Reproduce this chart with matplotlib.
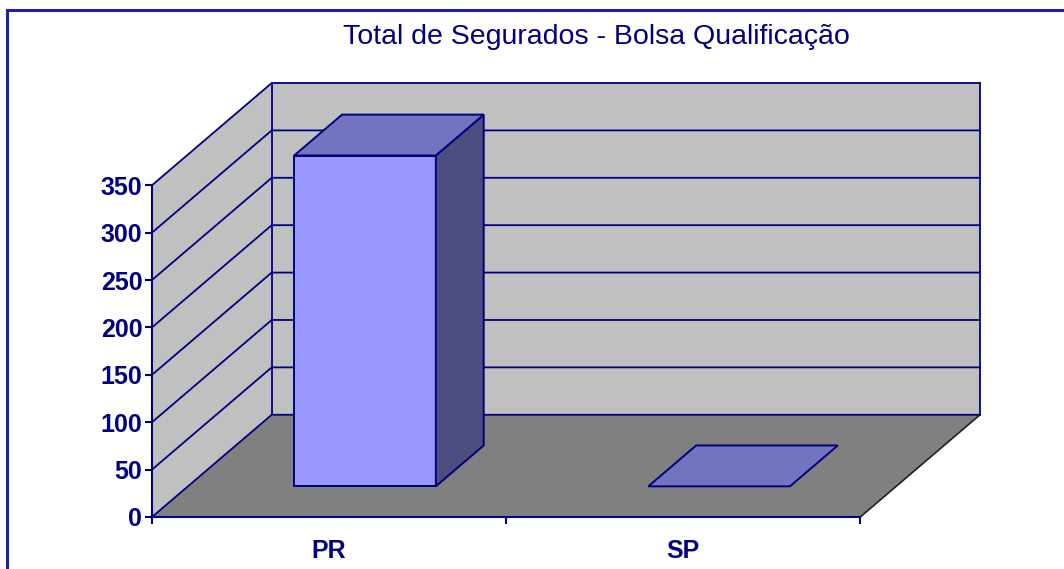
import matplotlib
matplotlib.use("Agg")
import matplotlib.pyplot as plt
from matplotlib import font_manager
from matplotlib.patches import Polygon
from matplotlib.lines import Line2D

# dados do grafico
categorias = ["PR", "SP"]
valores = [349, 0]
titulo = "Total de Segurados - Bolsa Qualificação"
ticks_y = [0, 50, 100, 150, 200, 250, 300, 350]

nomes = {f.name for f in font_manager.fontManager.ttflist}
estreita = "Liberation Sans Narrow" in nomes
fonte = "Liberation Sans Narrow" if estreita else "Liberation Sans"

AZUL = "#000080"
FRENTE = "#9999FF"
TOPO = "#7373BF"
LADO = "#4D4D80"
PAREDE = "#C0C0C0"
CHAO = "#808080"

VMAX = 350
DX = 120 / 355.0          # deslocamento da profundidade em unidades de categoria
DY = 102 / (331 / 350.0)  # deslocamento da profundidade em unidades de valor


def p(x, d, v):
    return (x + d * DX, v + d * DY)


fig = plt.figure(figsize=(10.64, 5.69), dpi=100)
W, H = 1064.0, 569.0
ax = fig.add_axes([152 / W, (H - 517) / H, (980 - 152) / W, (517 - 83) / H])
ax.set_xlim(0, len(categorias) + DX)
ax.set_ylim(0, VMAX + DY)
ax.patch.set_visible(False)

# paredes
ax.add_patch(Polygon([p(0, 0, 0), p(0, 1, 0), p(0, 1, VMAX), p(0, 0, VMAX)],
                     closed=True, fc=PAREDE, ec="none", zorder=1, clip_on=False))
ax.add_patch(Polygon([p(0, 1, 0), p(2, 1, 0), p(2, 1, VMAX), p(0, 1, VMAX)],
                     closed=True, fc=PAREDE, ec="none", zorder=1, clip_on=False))

# linhas de grade
for v in ticks_y[1:]:
    a, b, c = p(0, 0, v), p(0, 1, v), p(2, 1, v)
    ax.plot([a[0], b[0], c[0]], [a[1], b[1], c[1]], color=AZUL, lw=1.3,
            zorder=2, clip_on=False, solid_joinstyle="miter")
a, b = p(0, 1, 0), p(0, 1, VMAX)
ax.plot([a[0], b[0]], [a[1], b[1]], color=AZUL, lw=1.3, zorder=2, clip_on=False)
a, b = p(2, 1, 0), p(2, 1, VMAX)
ax.plot([a[0], b[0]], [a[1], b[1]], color=AZUL, lw=1.3, zorder=2, clip_on=False)

# chao
ax.add_patch(Polygon([p(0, 0, 0), p(2, 0, 0), p(2, 1, 0), p(0, 1, 0)],
                     closed=True, fc=CHAO, ec="none", zorder=3, clip_on=False))
a, b, c = p(0, 0, 0), p(0, 1, 0), p(2, 1, 0)
ax.plot([a[0], b[0], c[0]], [a[1], b[1], c[1]], color=AZUL, lw=1.3, zorder=3, clip_on=False)
a, b = p(2, 0, 0), p(2, 1, 0)
ax.plot([a[0], b[0]], [a[1], b[1]], color="#202020", lw=1.2, zorder=3, clip_on=False)

# barras
largura, d0, d1 = 0.4, 0.3, 0.7
for i, v in enumerate(valores):
    x0 = i + 0.5 - largura / 2
    x1 = i + 0.5 + largura / 2
    est = dict(closed=True, ec=AZUL, lw=1.4, zorder=4, clip_on=False, joinstyle="miter")
    if v > 0:
        ax.add_patch(Polygon([p(x0, d0, 0), p(x1, d0, 0), p(x1, d0, v), p(x0, d0, v)], fc=FRENTE, **est))
        ax.add_patch(Polygon([p(x1, d0, 0), p(x1, d1, 0), p(x1, d1, v), p(x1, d0, v)], fc=LADO, **est))
    ax.add_patch(Polygon([p(x0, d0, v), p(x1, d0, v), p(x1, d1, v), p(x0, d1, v)], fc=TOPO, **est))

# eixos
for s in ["top", "right"]:
    ax.spines[s].set_visible(False)
ax.spines["left"].set_bounds(0, VMAX)
ax.spines["bottom"].set_bounds(0, len(categorias))
for s in ["left", "bottom"]:
    ax.spines[s].set_color(AZUL)
    ax.spines[s].set_linewidth(1.5)
    ax.spines[s].set_zorder(5)
ax.set_yticks(ticks_y)
ax.set_yticklabels([str(t) for t in ticks_y])
ax.set_xticks(range(len(categorias) + 1))
ax.set_xticklabels([])
ax.set_xticks([i + 0.5 for i in range(len(categorias))], minor=True)
ax.set_xticklabels(categorias, minor=True)
ax.tick_params(axis="both", which="major", color=AZUL, width=1.5, length=5)
ax.tick_params(axis="x", which="minor", length=0, pad=16)
ax.tick_params(axis="y", pad=2)
for lab in ax.get_yticklabels() + ax.get_xticklabels(minor=True):
    lab.set_fontfamily(fonte)
    lab.set_fontweight("bold")
    lab.set_fontsize(18)
    lab.set_color(AZUL)

fig.text(596 / W, 1 - 37 / H, titulo, ha="center", va="center", color=AZUL,
         fontsize=25 if estreita else 20.5, family=fonte)

# moldura
fig.add_artist(Line2D([7 / W, 7 / W], [1 - 10 / H, -0.05], color="#2020A0", lw=2.2))
fig.add_artist(Line2D([7 / W, 1.05], [1 - 10 / H, 1 - 10 / H], color="#2020A0", lw=2.2))

fig.savefig("out.png", dpi=100)
